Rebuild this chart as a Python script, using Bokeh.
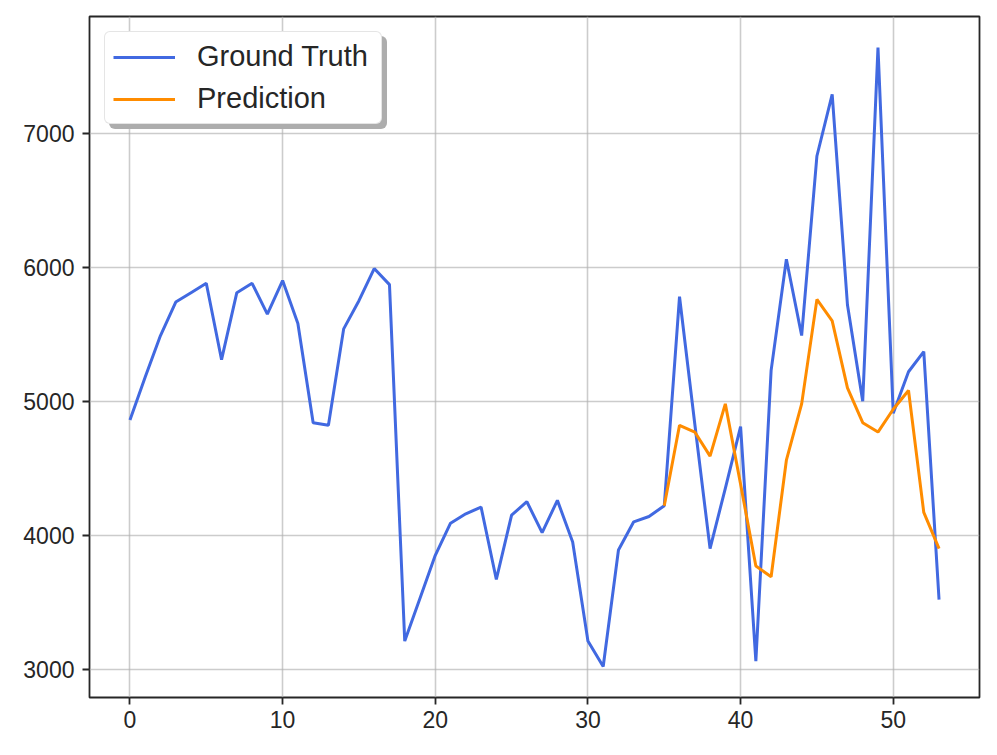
from bokeh.plotting import figure
from bokeh.models import Range1d, FixedTicker, Legend, LegendItem
from bokeh.embed import file_html
from bokeh.resources import INLINE

# ---- data ----
gt_x = list(range(0, 54))
gt_y = [4860, 5180, 5490, 5740, 5810, 5880, 5310, 5810, 5880, 5650,
        5900, 5580, 4840, 4820, 5540, 5750, 5990, 5870, 3210, 3530,
        3850, 4090, 4160, 4210, 3670, 4150, 4250, 4020, 4260, 3950,
        3210, 3020, 3890, 4100, 4140, 4220, 5780, 4830, 3900, 4350,
        4810, 3060, 5230, 6060, 5490, 6830, 7290, 5720, 5000, 7640,
        4910, 5220, 5370, 3520]
pred_x = list(range(35, 54))
pred_y = [4220, 4820, 4770, 4590, 4980, 4380, 3770, 3690, 4560, 4980,
          5760, 5600, 5100, 4840, 4770, 4940, 5080, 4170, 3900]
x_ticks = [0, 10, 20, 30, 40, 50]
y_ticks = [3000, 4000, 5000, 6000, 7000]
labels = ["Ground Truth", "Prediction"]

# matplotlib-like 5% margins
xmin, xmax = min(gt_x + pred_x), max(gt_x + pred_x)
ymin, ymax = min(gt_y + pred_y), max(gt_y + pred_y)
dx, dy = (xmax - xmin) * 0.05, (ymax - ymin) * 0.05

FONT = "Liberation Sans"
DARK = "#262626"

p = figure(width=989, height=747, output_backend="svg", toolbar_location=None,
           x_range=Range1d(xmin - dx, xmax + dx), y_range=Range1d(ymin - dy, ymax + dy),
           min_border_left=89, min_border_right=10, min_border_top=16, min_border_bottom=50)
p.background_fill_color = "white"
p.border_fill_color = "white"
p.outline_line_color = DARK
p.outline_line_width = 1.8

p.xaxis.ticker = FixedTicker(ticks=x_ticks)
p.yaxis.ticker = FixedTicker(ticks=y_ticks)
for ax in (p.xaxis, p.yaxis):
    ax.axis_line_color = None
    ax.major_tick_line_color = DARK
    ax.major_tick_line_width = 1.8
    ax.major_tick_out = 7
    ax.major_tick_in = 0
    ax.minor_tick_line_color = None
    ax.major_label_text_font = FONT
    ax.major_label_text_font_size = "23px"
    ax.major_label_text_color = DARK
p.xaxis.major_label_standoff = 6
p.yaxis.major_label_standoff = 8

for g in (p.xgrid, p.ygrid):
    g.grid_line_color = "#b0b0b0"
    g.grid_line_alpha = 0.65
    g.grid_line_width = 1.6

r_gt = p.line(gt_x, gt_y, line_color="royalblue", line_width=3)
r_pr = p.line(pred_x, pred_y, line_color="darkorange", line_width=3)

# invisible renderers for the shadow legend
d1 = p.line([], [], line_alpha=0)
d2 = p.line([], [], line_alpha=0)

def make_legend(items, margin, bg, border):
    lg = Legend(items=items, location="top_left", margin=margin,
                label_text_font=FONT, label_text_font_size="29px",
                label_text_color=DARK,
                glyph_width=62, glyph_height=30, label_height=33, label_width=176,
                label_standoff=22, padding=8, spacing=9,
                background_fill_color=bg, background_fill_alpha=1.0,
                border_line_color=border, border_line_width=1.5)
    if "border_radius" in Legend.properties():
        lg.border_radius = 6
    return lg

shadow = make_legend([LegendItem(label=" ", renderers=[d1]),
                      LegendItem(label=" ", renderers=[d2])],
                     20, "#adadad", "#adadad")
main = make_legend([LegendItem(label=labels[0], renderers=[r_gt]),
                    LegendItem(label=labels[1], renderers=[r_pr])],
                   15, "white", "#cccccc")
p.add_layout(shadow, "center")
p.add_layout(main, "center")

open("out.html", "w").write(file_html(p, INLINE))
